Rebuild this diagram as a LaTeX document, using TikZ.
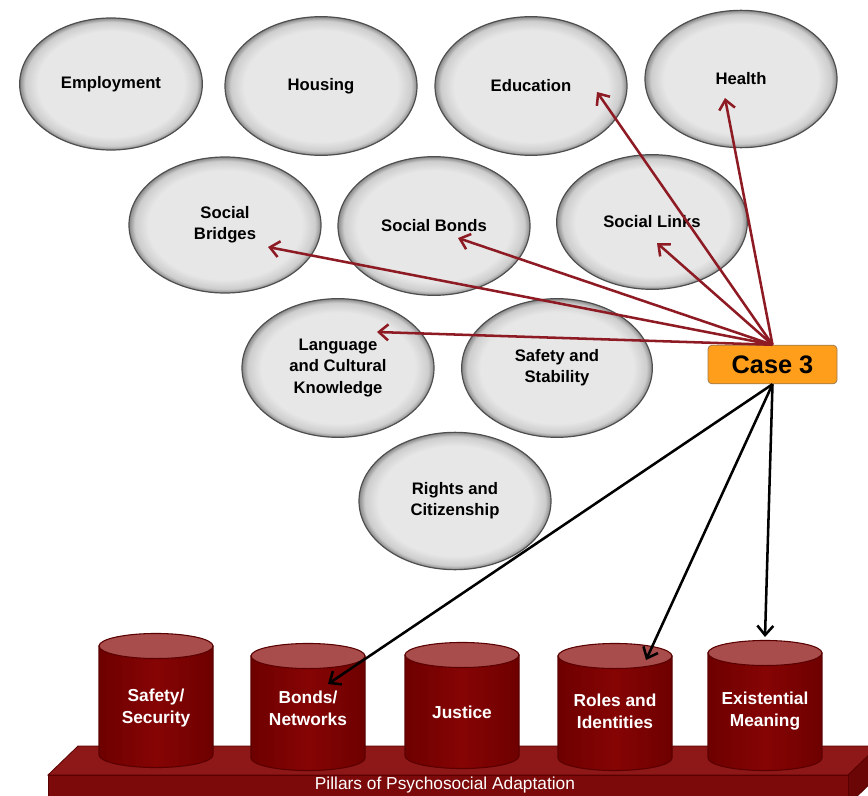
\documentclass[tikz,border=0pt]{standalone}
\usepackage{fontspec}
\setmainfont{Liberation Sans}
\usetikzlibrary{arrows.meta,shapes.geometric}
\definecolor{bubfill}{HTML}{E7E7E7}
\definecolor{bubmid}{HTML}{CDCDCD}
\definecolor{bubrim}{HTML}{8A8A8A}
\definecolor{bubline}{HTML}{4E4E4E}
\definecolor{pillred}{HTML}{860404}
\definecolor{pilldark}{HTML}{6E0000}
\definecolor{pilltop}{HTML}{A84C4C}
\definecolor{pilledge}{HTML}{5A0000}
\definecolor{slabtop}{HTML}{8E1818}
\definecolor{slabfront}{HTML}{7C0A0A}
\definecolor{slabside}{HTML}{6A0606}
\definecolor{linkred}{HTML}{8E1B24}
\definecolor{caseorange}{HTML}{FF9E1A}
\definecolor{caseline}{HTML}{9C7A4E}
\pgfdeclareradialshading{bubshade}{\pgfpoint{0bp}{0bp}}{color(0bp)=(bubfill); color(20bp)=(bubfill); color(23.5bp)=(bubmid); color(25bp)=(bubrim); color(50bp)=(bubrim)}

\begin{document}
\begin{tikzpicture}[font=\bfseries\fontsize{12.5}{16}\selectfont, x=0.75pt, y=-0.75pt]
  \tikzset{bubble/.style={ellipse, draw=bubline, line width=0.9pt, shade, shading=bubshade, minimum width=144pt, minimum height=104pt, inner sep=0pt, align=center},
           casebox/.style={rectangle, rounded corners=3pt, draw=caseline, line width=0.6pt, fill=caseorange, minimum width=96.75pt, minimum height=29pt, font=\bfseries\fontsize{19}{22}\selectfont},
           pilltext/.style={text=white, align=center, font=\bfseries\fontsize{13}{16.5}\selectfont},
           redlink/.style={draw=linkred, line width=1.9pt, -{Straight Barb[length=7pt, width=12pt]}},
           blacklink/.style={draw=black, line width=1.9pt, -{Straight Barb[length=7pt, width=12pt]}}}
  \useasboundingbox (0,0) rectangle (868,796);
  % integration domains
  \node[bubble, minimum width=137pt, minimum height=99pt] (emp) at (111,84) {Employment};
  \node[bubble] (hous) at (321,86) {Housing};
  \node[bubble] (edu) at (531,86) {Education};
  \node[bubble, minimum height=103pt] (health) at (741,79) {Health};
  \node[bubble, minimum height=102pt] (bridges) at (225,225) {Social\\Bridges};
  \node[bubble] (bonds) at (434,226) {Social Bonds};
  \node[bubble, minimum width=143pt, minimum height=101pt] (links) at (652,222) {Social Links};
  \node[bubble] (lang) at (338,368) {Language\\and Cultural\\Knowledge};
  \node[bubble, minimum width=143pt] (safety) at (557,368) {Safety and\\Stability};
  \node[bubble, minimum height=103pt] (rights) at (455,501) {Rights and\\Citizenship};
  % platform
  \draw[pilledge, line width=0.6pt, fill=slabside] (848,775) -- (878,746) -- (878,776) -- (848,805) -- cycle;
  \draw[pilledge, line width=0.6pt, fill=slabtop] (78,746) -- (878,746) -- (848,775) -- (48,775) -- cycle;
  \draw[pilledge, line width=0.6pt, fill=slabfront] (48,775) rectangle (848,805);
  \node[text=white, font=\fontsize{13}{15}\selectfont] (plabel) at (445,785) {Pillars of Psychosocial Adaptation};
  % pillars
  \foreach \cx/\ty/\by in {156/646/755, 308/656/758, 462/655/756, 615/656/758, 765/653/758} {
    \draw[pilledge, line width=0.8pt, left color=pilldark, right color=pilldark, middle color=pillred]
      (\cx-57,\ty) -- (\cx-57,\by) arc[start angle=180, end angle=360, x radius=42.75pt, y radius=9.4pt] -- (\cx+57,\ty) -- cycle;
    \draw[pilledge, line width=0.8pt, fill=pilltop] (\cx,\ty) ellipse[x radius=42.75pt, y radius=9.4pt];
  }
  \node[pilltext] (safe) at (156,708) {Safety/\\Security};
  \node[pilltext] (netw) at (308,708) {Bonds/\\Networks};
  \node[pilltext] (just) at (462,712) {Justice};
  \node[pilltext] (roles) at (615,711) {Roles and\\Identities};
  \node[pilltext] (exist) at (765,711) {Existential\\Meaning};
  % case
  \node[casebox] (case) at (772.5,364.5) {Case 3};
  % links to domains
  \draw[redlink] (case.north) -- ([shift={(66,6)}]edu.center);
  \draw[redlink] (case.north) -- ([shift={(-16,19)}]health.center);
  \draw[redlink] (case.north) -- ([shift={(43,22)}]bridges.center);
  \draw[redlink] (case.north) -- ([shift={(24,12)}]bonds.center);
  \draw[redlink] (case.north) -- ([shift={(5,21)}]links.center);
  \draw[redlink] (case.north) -- ([shift={(39,-36)}]lang.center);
  % links to pillars
  \draw[blacklink] (case.south) -- ([shift={(20,-24)}]netw.center);
  \draw[blacklink] (case.south) -- ([shift={(31,-51)}]roles.center);
  \draw[blacklink] (case.south) -- ([shift={(0,-74)}]exist.center);
\end{tikzpicture}
\end{document}
